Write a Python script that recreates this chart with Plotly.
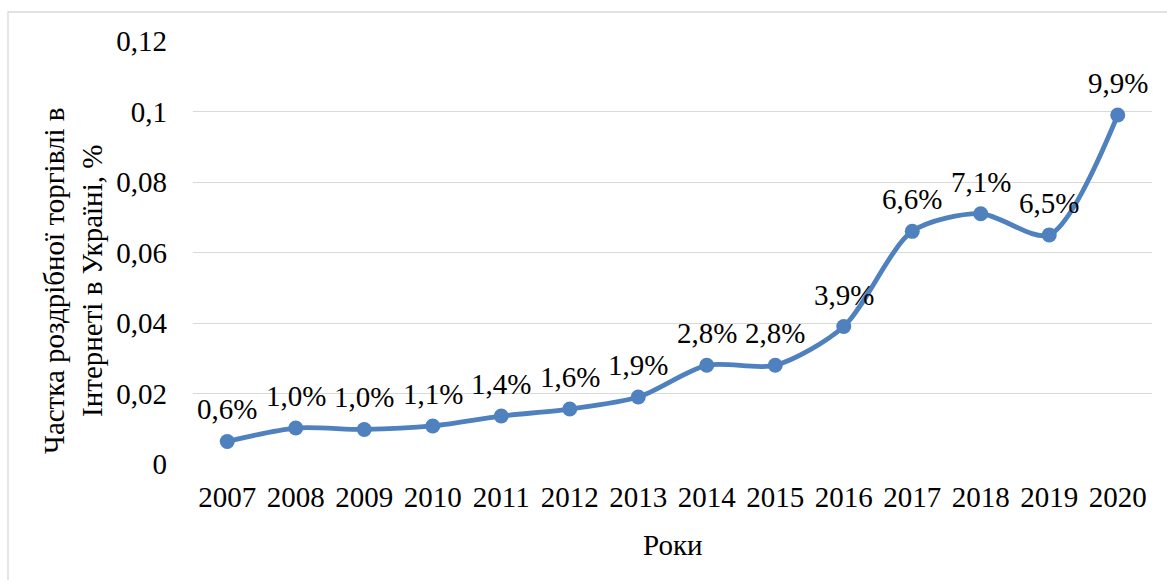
import plotly.graph_objects as go

# Share of online retail in Ukraine, by year
years = ["2007", "2008", "2009", "2010", "2011", "2012", "2013",
         "2014", "2015", "2016", "2017", "2018", "2019", "2020"]
share = [0.0064, 0.0102, 0.0098, 0.0108, 0.0136, 0.0156, 0.019,
         0.028, 0.028, 0.039, 0.066, 0.071, 0.065, 0.099]

y_ticks = [0, 0.02, 0.04, 0.06, 0.08, 0.1, 0.12]
y_tick_text = ["0", "0,02", "0,04", "0,06", "0,08", "0,1", "0,12"]

FONT = "Liberation Serif, Times New Roman, serif"
FS = 29
LINE_COLOR = "#4e81bd"
GRID = "#d9d9d9"

def pct_label(v):
    return f"{v * 100:.1f}%".replace(".", ",")

fig = go.Figure()
fig.add_trace(go.Scatter(
    x=years, y=share,
    mode="lines+markers",
    line=dict(color=LINE_COLOR, width=4.8, shape="spline", smoothing=0.8),
    marker=dict(color=LINE_COLOR, size=15),
    hoverinfo="skip",
    showlegend=False,
))

# value labels above each point (category index as x position)
for i, v in enumerate(share):
    fig.add_annotation(
        x=i, y=v, text=pct_label(v), showarrow=False,
        xref="x", yref="y",
        yanchor="bottom", yshift=14,
        font=dict(family=FONT, size=FS, color="#000000"),
    )

# axis titles
fig.add_annotation(
    xref="paper", yref="paper", x=-0.125, y=0.433,
    text="Частка роздрібної торгівлі в<br>Інтернеті в Україні, %",
    textangle=-90, showarrow=False, xanchor="center", yanchor="middle",
    font=dict(family=FONT, size=FS, color="#000000"),
)
fig.add_annotation(
    xref="paper", yref="paper", x=0.5, y=-0.191,
    text="Роки", showarrow=False, xanchor="center", yanchor="middle",
    font=dict(family=FONT, size=FS, color="#000000"),
)

# chart frame (left and top edges)
L, R, T, B = 193, 1152, 41, 464
def px_x(p):
    return (p - L) / (R - L)
def px_y(p):
    return (B - p) / (B - T)
fig.add_shape(type="rect", xref="paper", yref="paper",
              x0=px_x(8), x1=px_x(1175), y0=px_y(12), y1=px_y(590),
              line=dict(color=GRID, width=1.3), layer="below")

fig.update_layout(
    width=1167, height=580,
    margin=dict(l=L, r=1167 - R, t=T, b=580 - B),
    paper_bgcolor="white", plot_bgcolor="white",
    font=dict(family=FONT, size=FS, color="#000000"),
    xaxis=dict(
        type="category", range=[-0.5, 13.5],
        showgrid=False, showline=False, zeroline=False,
        ticks="", ticklabelstandoff=13,
        tickfont=dict(family=FONT, size=FS),
    ),
    yaxis=dict(
        range=[0, 0.12], tickvals=y_ticks, ticktext=y_tick_text,
        showgrid=True, gridcolor=GRID, gridwidth=1.3,
        showline=False, zeroline=False,
        ticks="", ticklabelstandoff=25,
        tickfont=dict(family=FONT, size=FS),
    ),
)

fig.write_html("out.html")
